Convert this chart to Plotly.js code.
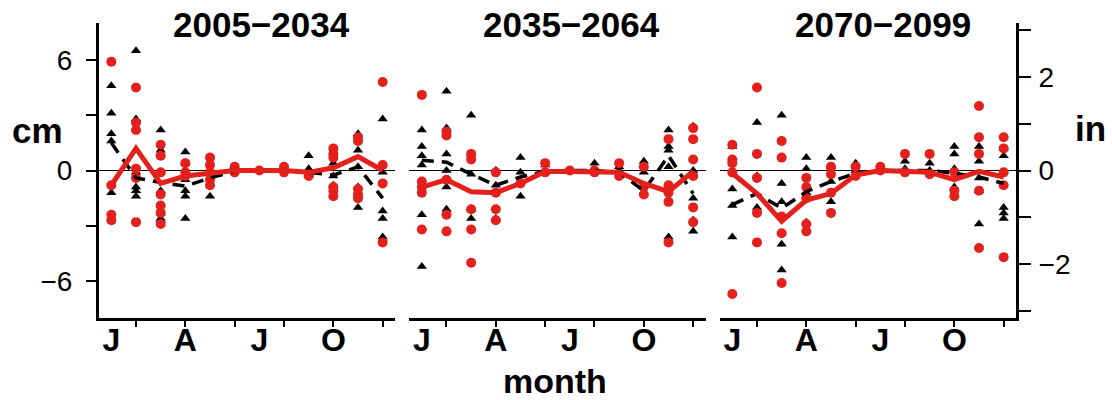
<!DOCTYPE html>
<html>
<head>
<meta charset="utf-8">
<script src="https://cdn.plot.ly/plotly-3.0.1.min.js"></script>
<style>html,body{margin:0;padding:0;background:#fff;}#chart{width:1112px;height:400px;}</style>
</head>
<body>
<div id="chart"></div>
<script>
// ---- data (cm), one list of ensemble members per month ----
const months = [1,2,3,4,5,6,7,8,9,10,11,12];
const monthTickVals = [1,4,7,10];
const monthTickText = ['J','A','J','O'];
const panelTitles = ['2005−2034','2035−2064','2070−2099'];

const p1Red = [[5.9,-0.8,-2.4,-2.7],[4.5,2.6,2.2,0.1,-0.4,-2.8],[1.4,0.8,-0.1,-1.3,-1.9,-2.3,-2.9],[0.4,-0.1,-0.3],[0.7,0.3,-0.1,-0.5,-0.8],[0.2,-0.1],[0.0],[0.2,-0.1],[-0.3],[1.2,0.9,0.7,-0.9,-1.1,-1.4],[1.8,1.6,-1.0,-1.3,-1.5],[4.8,0.3,-0.7,-3.9]];
const p1Black = [[4.6,3.1,2.0,1.6,-1.2],[6.5,2.8,2.7,-0.1,-0.9,-1.1,-1.4],[2.2,1.1,-0.1,-1.1,-2.3,-2.6,-2.7],[1.0,0.4,-0.5,-1.1,-1.4,-2.6],[-0.1,-1.4],[0.2,0.0],[0.0],[0.1],[0.8,0.1,-0.2],[0.4,-0.3,-0.8],[2.0,1.1,0.2,-0.9,-2.0],[2.8,-0.1,-2.2,-2.6,-3.6]];
const p1RedMean = [-0.8,1.2,-0.7,-0.3,-0.15,0,0,0,-0.1,0.15,0.75,0];
const p1BlackMean = [1.5,-0.4,-0.65,-0.85,-0.4,-0.05,0,0,-0.1,-0.25,0.2,-1.5];

const p2Red = [[4.1,-0.6,-0.9,-1.2,-3.2],[2.1,1.9,-0.5,-2.4,-3.3],[0.9,0.6,-2.1,-3.2,-5.0],[-0.1,-1.2,-2.1,-2.7],[-0.7],[0.4,-0.1],[0.0],[0.0,-0.1],[0.4,-0.3],[0.2,-0.9,-1.3],[1.7,-0.8,-1.2,-1.7,-3.9],[2.3,1.7,0.6,-0.3,-2.0,-2.8]];
const p2Black = [[2.2,1.3,0.8,0.3,-2.4,-5.2],[4.3,2.3,0.9,0.0,-0.9,-2.1],[3.0,0.9,-0.2,-2.1,-2.6],[0.0,-0.8,-2.6],[0.7,-0.1,-1.4],[0.3,0.0,-0.1],[0.0],[0.4,0.0],[0.2,0.0],[0.5,-0.1,-1.2],[2.2,1.3,1.1,0.2,-3.6],[2.4,0.0,-1.5,-2.7,-3.3]];
const p2RedMean = [-0.9,-0.5,-1.15,-1.2,-0.7,-0.05,-0.05,-0.05,-0.1,-0.7,-1.15,-0.05];
const p2BlackMean = [0.55,0.45,-0.2,-0.8,-0.35,-0.05,0,0,-0.1,-1.1,0.8,-1.25];

const p3Red = [[1.4,0.6,0.4,-0.1,-6.7],[4.5,0.9,-0.4,-2.3,-3.9],[1.6,0.7,-2.5,-3.4,-6.1],[-0.4,-0.9,-1.5,-2.9,-3.3],[0.2,-0.2,-1.2,-2.3],[0.2,-0.3],[0.2,0.0],[0.9,-0.1],[0.9,-0.2],[-0.1,-1.1,-1.4],[3.5,1.8,0.9,-1.1,-4.2],[1.8,1.2,-0.1,-0.8,-4.7]];
const p3Black = [[1.3,-1.0,-1.9,-3.6],[2.6,-0.3,-2.0],[3.0,-0.7,-1.7,-2.5,-4.0,-5.4],[0.7,0.1,-1.2,-2.8],[0.7,0.2,-0.6,-1.7],[0.4,0.1,0.0],[0.0],[0.5,0.1],[0.4,0.0],[1.3,0.9,0.1,-0.9],[1.3,0.5,-0.4,-1.1,-2.9],[1.2,0.8,-2.0,-2.3,-2.6]];
const p3RedMean = [-0.15,-1.25,-2.75,-1.6,-1.25,-0.25,0,-0.05,-0.1,-0.5,-0.05,-0.35];
const p3BlackMean = [-1.85,-1.25,-2.05,-1.15,-0.6,-0.15,0,0,0,-0.15,-0.35,-0.7];

const cmTicks = [-6,-3,0,3,6];
const cmTickText = ['−6','','0','','6'];
const inTicks = [-3,-2,-1,0,1,2,3];
const inTickText = ['','−2','','0','','2',''];
const CM_PER_IN = 2.54;

// ---- build ----
const RED = '#e3201b';
const FONT = 'Liberation Sans, Arial, Helvetica, sans-serif';
function flatten(lists){
  const x=[], y=[];
  lists.forEach((vals,i)=>vals.forEach(v=>{x.push(months[i]); y.push(v);}));
  return {x,y};
}
const panels = [
  {red:p1Red, black:p1Black, rm:p1RedMean, bm:p1BlackMean},
  {red:p2Red, black:p2Black, rm:p2RedMean, bm:p2BlackMean},
  {red:p3Red, black:p3Black, rm:p3RedMean, bm:p3BlackMean}
];
const traces = [];
panels.forEach((p,k)=>{
  const xa = k===0?'x':'x'+(k+1), ya = k===0?'y':'y'+(k+1);
  const b = flatten(p.black), r = flatten(p.red);
  traces.push({type:'scatter',mode:'markers',x:b.x,y:b.y,xaxis:xa,yaxis:ya,
    marker:{symbol:'triangle-up',size:9,color:'#000'},hoverinfo:'skip',showlegend:false});
  traces.push({type:'scatter',mode:'markers',x:r.x,y:r.y,xaxis:xa,yaxis:ya,
    marker:{symbol:'circle',size:10,color:RED},hoverinfo:'skip',showlegend:false});
  traces.push({type:'scatter',mode:'lines',x:months,y:p.bm,xaxis:xa,yaxis:ya,
    line:{color:'#000',width:3.5,dash:'12px,8px'},hoverinfo:'skip',showlegend:false});
  traces.push({type:'scatter',mode:'lines',x:months,y:p.rm,xaxis:xa,yaxis:ya,
    line:{color:RED,width:5},hoverinfo:'skip',showlegend:false});
});
// invisible trace to carry the inch axis
traces.push({type:'scatter',mode:'markers',x:[1],y:[0],xaxis:'x3',yaxis:'y4',
  marker:{opacity:0},hoverinfo:'skip',showlegend:false});

function xAxis(domain, anchor){
  return {domain:domain, anchor:anchor, range:[0.5,12.5], showline:true, linewidth:3, linecolor:'#000',
    showgrid:false, zeroline:false, ticks:'', tickvals:monthTickVals, ticktext:monthTickText,
    tickfont:{family:FONT,size:32,color:'#000',weight:'bold'}, ticklabelstandoff:-8,
    minor:{tickvals:[2,4,6,8,10,12], ticks:'outside', ticklen:6, tickwidth:2, tickcolor:'#000', showgrid:false},
    fixedrange:true};
}
function yAxis(anchor, showAxis){
  return {anchor:anchor, range:[-8,8], showgrid:false, zeroline:true, zerolinecolor:'#000', zerolinewidth:1.5,
    showline:showAxis, linewidth:3, linecolor:'#000', ticks:showAxis?'outside':'', ticklen:10, tickwidth:2, tickcolor:'#000',
    tickvals:cmTicks, ticktext:cmTickText, showticklabels:showAxis,
    tickfont:{family:FONT,size:28,color:'#000'}, ticklabelstandoff:8, fixedrange:true};
}
const layout = {
  width:1112, height:400, paper_bgcolor:'#fff', plot_bgcolor:'#fff',
  margin:{l:99, r:96, t:23, b:82}, showlegend:false, font:{family:FONT,color:'#000'},
  xaxis: xAxis([0,0.3228],'y'),
  xaxis2: xAxis([0.3386,0.6614],'y2'),
  xaxis3: xAxis([0.6772,1],'y3'),
  yaxis: yAxis('x', true),
  yaxis2: yAxis('x2', false),
  yaxis3: yAxis('x3', false),
  yaxis4: {overlaying:'y3', side:'right', anchor:'x3', range:[-8/CM_PER_IN, 8/CM_PER_IN],
    showgrid:false, zeroline:false, showline:true, linewidth:3, linecolor:'#000',
    ticks:'outside', ticklen:12, tickwidth:2, tickcolor:'#000', tickvals:inTicks, ticktext:inTickText,
    tickfont:{family:FONT,size:28,color:'#000'}, ticklabelstandoff:2, fixedrange:true},
  annotations: [
    {text:panelTitles[0], xref:'paper', yref:'paper', x:0.1772, y:0.995, xanchor:'center', yanchor:'middle', showarrow:false,
      font:{family:FONT,size:35,color:'#000',weight:'bold'}},
    {text:panelTitles[1], xref:'paper', yref:'paper', x:0.5155, y:0.995, xanchor:'center', yanchor:'middle', showarrow:false,
      font:{family:FONT,size:35,color:'#000',weight:'bold'}},
    {text:panelTitles[2], xref:'paper', yref:'paper', x:0.8553, y:0.995, xanchor:'center', yanchor:'middle', showarrow:false,
      font:{family:FONT,size:35,color:'#000',weight:'bold'}},
    {text:'cm', xref:'paper', yref:'paper', x:-0.0676, y:0.634, xanchor:'center', yanchor:'middle', showarrow:false,
      font:{family:FONT,size:35,color:'#000',weight:'bold'}},
    {text:'in', xref:'paper', yref:'paper', x:1.0807, y:0.644, xanchor:'center', yanchor:'middle', showarrow:false,
      font:{family:FONT,size:35,color:'#000',weight:'bold'}},
    {text:'month', xref:'paper', yref:'paper', x:0.4973, y:-0.215, xanchor:'center', yanchor:'middle', showarrow:false,
      font:{family:FONT,size:34,color:'#000',weight:'bold'}}
  ]
};
Plotly.newPlot('chart', traces, layout, {displayModeBar:false, staticPlot:true});
</script>
</body>
</html>
